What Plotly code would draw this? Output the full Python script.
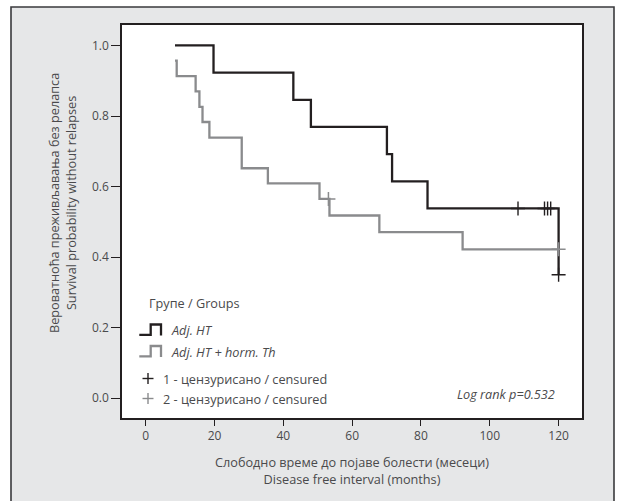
import plotly.graph_objects as go

# Kaplan-Meier step curves (months, survival probability)
adj_ht_t = [8.5, 19.7, 42.9, 48.0, 70.1, 71.6, 81.9, 120.0]
adj_ht_s = [1.000, 0.923, 0.846, 0.769, 0.692, 0.615, 0.538, 0.350]
adj_ht_cens_t = [108.2, 115.9, 116.8, 117.7, 120.0]
adj_ht_cens_s = [0.538, 0.538, 0.538, 0.538, 0.350]

horm_t = [8.5, 9.0, 14.5, 15.6, 16.5, 18.5, 27.9, 35.5, 50.5, 53.4, 67.9, 92.1, 120.0]
horm_s = [0.957, 0.913, 0.870, 0.826, 0.783, 0.739, 0.652, 0.609, 0.565, 0.518, 0.471, 0.422, 0.422]
horm_cens_t = [53.1, 120.0]
horm_cens_s = [0.565, 0.422]

x_ticks = [0, 20, 40, 60, 80, 100, 120]
y_ticks = [0.0, 0.2, 0.4, 0.6, 0.8, 1.0]
y_tick_text = ["0.0", "0.2", "0.4", "0.6", "0.8", "1.0"]

group_title = "Групе / Groups"
group_names = ["Adj. HT", "Adj. HT + horm. Th"]
censor_names = ["1 - цензурисано / censured", "2 - цензурисано / censured"]
x_title = "Слободно време до појаве болести (месеци)<br>Disease free interval (months)"
y_title = "Вероватноћа преживљавања без релапса<br>Survival probability without relapses"
pvalue_text = "Log rank p=0.532"

BLACK = "#231f20"
GRAY = "#8a8b8d"
TEXT = "#4a4a4c"
FONT = "Open Sans"
TXT_SIZE = 12.7

W, H = 618, 501
L, R, T, B = 122, 582, 25, 418   # plot area in pixels


def px(x):
    return (x - L) / (R - L)


def py(y):
    return (B - y) / (B - T)


fig = go.Figure()

fig.add_trace(go.Scatter(x=adj_ht_t, y=adj_ht_s, mode="lines", line_shape="hv",
                         line=dict(color=BLACK, width=2.3), showlegend=False, hoverinfo="skip"))
fig.add_trace(go.Scatter(x=horm_t, y=horm_s, mode="lines", line_shape="hv",
                         line=dict(color=GRAY, width=2.3), showlegend=False, hoverinfo="skip"))
fig.add_trace(go.Scatter(x=horm_cens_t, y=horm_cens_s, mode="markers",
                         marker=dict(symbol="cross-thin", size=10, line=dict(color=GRAY, width=1.5)),
                         showlegend=False, hoverinfo="skip"))
fig.add_trace(go.Scatter(x=adj_ht_cens_t, y=adj_ht_cens_s, mode="markers",
                         marker=dict(symbol="cross-thin", size=10, line=dict(color=BLACK, width=1.4)),
                         showlegend=False, hoverinfo="skip"))

shapes = [
    # outer gray panel
    dict(type="rect", xref="paper", yref="paper", layer="below",
         x0=px(11), x1=px(614), y0=py(530), y1=py(7),
         fillcolor="#e6e7e8", line=dict(color="#3a3a3c", width=1.6)),
    # white plotting area
    dict(type="rect", xref="paper", yref="paper", layer="below",
         x0=0, x1=1, y0=0, y1=1, fillcolor="white", line=dict(width=0)),
]


def step_icon(top, bottom, color):
    pts = [(139.3, bottom - 0.7), (150.7, bottom - 0.7), (150.7, top), (161.0, top), (161.0, bottom)]
    d = "M " + " L ".join(f"{px(a):.5f},{py(b):.5f}" for a, b in pts)
    return dict(type="path", xref="paper", yref="paper", path=d,
                line=dict(color=color, width=2.3))


shapes.append(step_icon(324.5, 335.5, BLACK))
shapes.append(step_icon(346.0, 357.0, GRAY))


def plus_icon(cx, cy, color):
    return [
        dict(type="line", xref="paper", yref="paper", x0=px(cx - 5.5), x1=px(cx + 5.5),
             y0=py(cy), y1=py(cy), line=dict(color=color, width=1.4)),
        dict(type="line", xref="paper", yref="paper", x0=px(cx), x1=px(cx),
             y0=py(cy - 5.5), y1=py(cy + 5.5), line=dict(color=color, width=1.4)),
    ]


shapes += plus_icon(148, 378.5, BLACK)
shapes += plus_icon(148, 398.5, GRAY)

annotations = [
    dict(text=group_title, x=px(147), y=py(302.5), xanchor="left", yanchor="middle"),
    dict(text=f"<i>{group_names[0]}</i>", x=px(169), y=py(329.5), xanchor="left", yanchor="middle"),
    dict(text=f"<i>{group_names[1]}</i>", x=px(169), y=py(351.5), xanchor="left", yanchor="middle"),
    dict(text=censor_names[0], x=px(160.5), y=py(378.5), xanchor="left", yanchor="middle"),
    dict(text=censor_names[1], x=px(160.5), y=py(398.5), xanchor="left", yanchor="middle"),
    dict(text=f"<i>{pvalue_text}</i>", x=px(557), y=py(393.5), xanchor="right", yanchor="middle"),
    dict(text=x_title, x=px(352), y=py(470.5), xanchor="center", yanchor="middle"),
    dict(text=y_title, x=px(62), y=py(203), xanchor="center", yanchor="middle", textangle=-90),
]
for a in annotations:
    a.update(xref="paper", yref="paper", showarrow=False,
             font=dict(family=FONT, size=TXT_SIZE, color=TEXT))

axis_common = dict(showgrid=False, zeroline=False, showline=True, mirror=True,
                   linecolor=BLACK, linewidth=1.5, ticks="outside", tickcolor=BLACK,
                   tickwidth=1.2, tickfont=dict(family=FONT, size=12, color=TEXT))

fig.update_layout(
    width=W, height=H,
    margin=dict(l=L, r=W - R, t=T, b=H - B),
    paper_bgcolor="white", plot_bgcolor="white",
    xaxis=dict(range=[-6.9, 126.8], tickvals=x_ticks, ticklen=6, **axis_common),
    yaxis=dict(range=[-0.056, 1.058], tickvals=y_ticks, ticktext=y_tick_text, ticklen=9,
               **axis_common),
    shapes=shapes, annotations=annotations,
    font=dict(family=FONT, color=TEXT),
)

fig.write_html("out.html")
